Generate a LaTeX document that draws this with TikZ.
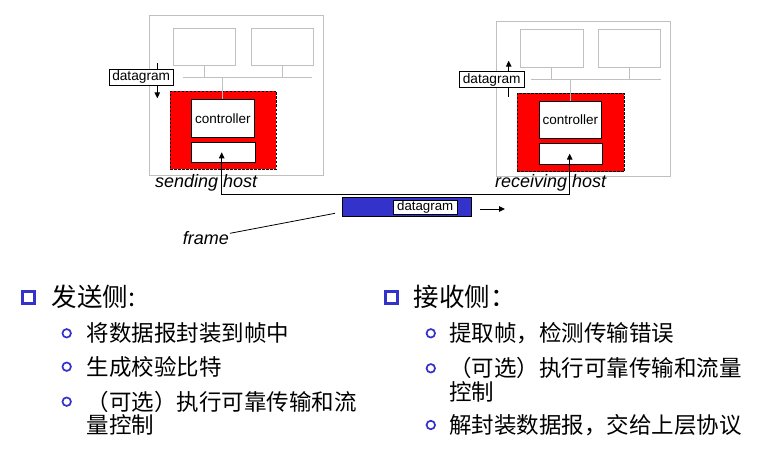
\documentclass[tikz,border=0pt]{standalone}
\usepackage{fontspec}
\setmainfont{Liberation Sans}
\newfontfamily\cjk{Noto Sans CJK SC}
\usetikzlibrary{arrows.meta,shadows}
\definecolor{hostgray}{RGB}{192,192,192}
\definecolor{nicred}{RGB}{255,0,0}
\definecolor{frameblue}{RGB}{51,51,204}
\definecolor{bulletblue}{RGB}{51,51,204}
\begin{document}
\begin{tikzpicture}[x=1pt,y=-1pt,
  hostbox/.style={draw=hostgray,line width=1pt,inner sep=0pt},
  hostline/.style={draw=hostgray,line width=1pt},
  nicarea/.style={draw=black,fill=nicred,line width=0.8pt,dash pattern=on 2.5pt off 1.5pt,inner sep=0pt},
  wbox/.style={draw=black,fill=white,line width=1pt,inner sep=0pt},
  dlabel/.style={draw=black,fill=white,line width=1pt,inner sep=0pt,font=\fontsize{13.7}{15}\selectfont},
  ctrltext/.style={font=\fontsize{13.5}{15}\selectfont},
  hostname/.style={inner sep=0pt,font=\itshape\fontsize{18}{20}\selectfont},
  arr/.style={line width=1pt,-{Triangle[length=6pt,width=5.5pt]}},
  linkarr/.style={line width=1pt,{Triangle[length=6pt,width=5.5pt]}-{Triangle[length=6pt,width=5.5pt]}},
  maintext/.style={inner sep=0pt,anchor=base west,font=\cjk\fontsize{25.5}{28}\selectfont},
  subtext/.style={inner sep=0pt,anchor=base west,align=left,font=\cjk\fontsize{22.5}{23.4}\selectfont},
  sqbullet/.style={draw=bulletblue,fill=white,line width=2.2pt,minimum size=12pt,inner sep=0pt,
     drop shadow={shadow xshift=1.6pt,shadow yshift=-1.6pt,fill=bulletblue!75,opacity=1}},
  cbullet/.style={circle,draw=bulletblue,line width=1.7pt,minimum size=8.5pt,inner sep=0pt}
]
\useasboundingbox (0,0) rectangle (766,452);
\fill[white] (0,0) rectangle (766,452);

% ---------- sending host ----------
\node[hostbox,minimum width=174pt,minimum height=159pt] (hostS) at (236.3,95.5) {};
\node[hostbox,minimum width=62pt,minimum height=36.7pt] (appS1) at (204.3,46.7) {};
\node[hostbox,minimum width=62pt,minimum height=36.7pt] (appS2) at (282.3,46.7) {};
\coordinate (busSL) at (183.3,77.3);
\coordinate (busSR) at (312.3,77.3);
\draw[hostline] (busSL) -- (busSR);
\draw[hostline] (appS1.south) -- (appS1.south |- busSL);
\draw[hostline] (appS2.south) -- (appS2.south |- busSL);
\node[nicarea,minimum width=106pt,minimum height=77.7pt] (redS) at (223.3,130.15) {};
\node[wbox,ctrltext,minimum width=63pt,minimum height=37.7pt] (ctrlS) at (222.8,118.2) {controller};
\draw[hostline] (ctrlS.north) -- (ctrlS.north |- busSL);
\node[wbox,minimum width=64pt,minimum height=20pt] (nicS) at (223.3,152.3) {};
\coordinate (dgS1) at (157.3,63.3);
\coordinate (dgS2) at (157.3,98.3);
\draw[arr] (dgS1) -- (dgS2);
\node[dlabel,minimum width=64.3pt,minimum height=15.7pt] (dlabS) at (141.2,77.2) {datagram};

% ---------- receiving host ----------
\node[hostbox,minimum width=174pt,minimum height=154.7pt] (hostR) at (583.7,98.65) {};
\node[hostbox,minimum width=63pt,minimum height=38pt] (appR1) at (551.8,48.3) {};
\node[hostbox,minimum width=62.3pt,minimum height=38pt] (appR2) at (629.2,48.3) {};
\coordinate (busRL) at (531.3,79.3);
\coordinate (busRR) at (660.7,79.3);
\draw[hostline] (busRL) -- (busRR);
\draw[hostline] (appR1.south) -- (appR1.south |- busRL);
\draw[hostline] (appR2.south) -- (appR2.south |- busRL);
\node[nicarea,minimum width=107pt,minimum height=78.4pt] (redR) at (570.8,132.5) {};
\node[wbox,ctrltext,minimum width=62pt,minimum height=36.7pt] (ctrlR) at (570.3,119.65) {controller};
\draw[hostline] (ctrlR.north) -- (ctrlR.north |- busRL);
\node[wbox,minimum width=63pt,minimum height=20.7pt] (nicR) at (570.8,153.65) {};
\coordinate (dgR1) at (508.7,96.7);
\coordinate (dgR2) at (508.7,60.7);
\draw[arr] (dgR1) -- (dgR2);
\node[dlabel,minimum width=65.3pt,minimum height=15.3pt] (dlabR) at (491.7,79.65) {datagram};

% ---------- link ----------
\coordinate (lkA) at (221.7,194);
\coordinate (lkB) at (569.7,194);
\draw[linkarr] (lkA |- nicS.center) -- (lkA) -- (lkB) -- (lkB |- nicR.center);

\node[hostname,anchor=base west] (sendT) at (155,187.7) {sending host};
\node[hostname,anchor=base west] (recvT) at (495,187.7) {receiving host};

% ---------- frame ----------
\node[draw=black,fill=frameblue,line width=1pt,minimum width=129pt,minimum height=19pt,inner sep=0pt] (frm) at (407.2,206.8) {};
\node[dlabel,minimum width=63.7pt,minimum height=13.6pt,font=\fontsize{13.3}{15}\selectfont] (dlabF) at (425.2,207.5) {datagram};
\coordinate (mv1) at (480,209);
\coordinate (mv2) at (505,209);
\draw[arr] (mv1) -- (mv2);
\node[hostname,anchor=base west] (frameT) at (182.7,244) {frame};
\coordinate (fs) at (230,233.3);
\coordinate (fp) at (335,213.3);
\draw[line width=0.8pt] (fs) -- (fp);

% ---------- bullet text, left ----------
\node[sqbullet] (sqL) at (28.5,297.5) {};
\node[maintext] (mainL) at (51.7,306) {发送侧:};
\node[cbullet] (cL1) at (66.7,333.3) {};
\node[subtext] (tL1) at (86.7,341.6) {将数据报封装到帧中};
\node[cbullet] (cL2) at (66.7,366.7) {};
\node[subtext] (tL2) at (86.7,375) {生成校验比特};
\node[cbullet] (cL3) at (66.7,401.7) {};
\node[subtext] (tL3) at (86.7,433.4) {（可选）执行可靠传输和流\\量控制};

% ---------- bullet text, right ----------
\node[sqbullet] (sqR) at (391.5,297.5) {};
\node[maintext] (mainR) at (413.3,306) {接收侧：};
\node[cbullet] (cR1) at (430.8,333.3) {};
\node[subtext] (tR1) at (449,341.6) {提取帧，检测传输错误};
\node[cbullet] (cR2) at (430.8,368.3) {};
\node[subtext] (tR2) at (449,400) {（可选）执行可靠传输和流量\\控制};
\node[cbullet] (cR3) at (430.8,425) {};
\node[subtext] (tR3) at (449,433.3) {解封装数据报，交给上层协议};
\end{tikzpicture}
\end{document}
